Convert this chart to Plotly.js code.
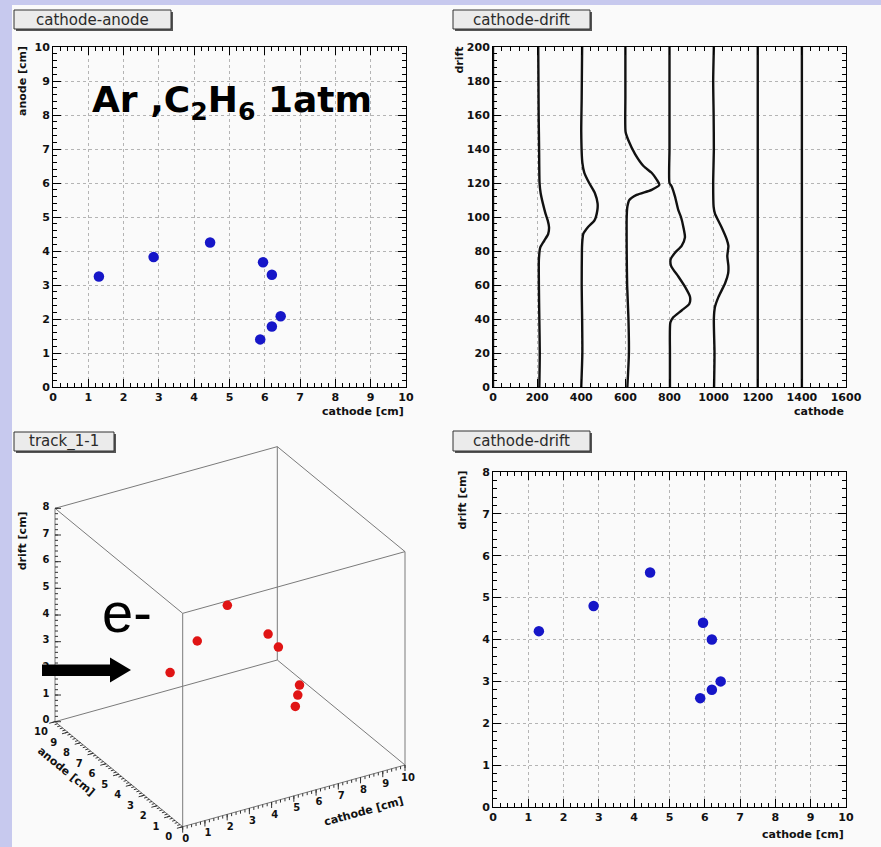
<!DOCTYPE html>
<html>
<head>
<meta charset="utf-8">
<script src="https://cdn.plot.ly/plotly-3.0.1.min.js"></script>
<style>html,body{margin:0;padding:0;background:#fafafa;}#chart{width:881px;height:847px;}</style>
</head>
<body>
<div id="chart"></div>
<script>
// ---- data: hit positions ----
const cathode = [1.3, 2.85, 4.45, 5.95, 6.2, 6.45, 6.2, 5.87];
const anode   = [3.25, 3.82, 4.25, 3.67, 3.3, 2.08, 1.78, 1.4];
const drift   = [4.2, 4.8, 5.6, 4.4, 4.0, 3.0, 2.8, 2.6];

// ---- data: cathode waveforms (value vs drift) ----
const ch0Drift = [0, 200];
const ch0Value = [0, 0];
const ch1Drift = [0, 20, 40, 60, 75, 82, 86, 90, 94, 98, 102, 108, 114, 120, 140, 160, 180, 200];
const ch1Value = [210, 212, 210, 208, 208, 214, 232, 250, 254, 248, 238, 226, 216, 211, 209, 207, 206, 205];
const ch2Drift = [0, 20, 40, 60, 80, 84, 90, 94, 98, 104, 108, 114, 120, 126, 132, 150, 170, 200];
const ch2Value = [400, 405, 404, 402, 403, 404, 409, 430, 460, 473, 474, 462, 436, 414, 405, 400, 402, 404];
const ch3Drift = [0, 20, 40, 60, 80, 100, 106, 110, 113, 116, 119, 122, 126, 130, 137, 145, 150, 170, 200];
const ch3Value = [609, 616, 614, 608, 606, 606, 609, 618, 651, 719, 754, 742, 719, 682, 644, 614, 601, 600, 600];
const ch4Drift = [0, 20, 38, 41, 45, 49, 53, 59, 65, 71, 75, 79, 83, 88, 94, 100, 104, 112, 118, 120, 140, 160, 180, 200];
const ch4Value = [802, 802, 804, 817, 855, 890, 893, 870, 840, 808, 805, 825, 855, 870, 863, 852, 840, 825, 810, 800, 800, 800, 800, 800];
const ch5Drift = [0, 20, 40, 47, 53, 61, 67, 71, 77, 83, 87, 94, 102, 106, 120, 140, 160, 180, 200];
const ch5Value = [1002, 1004, 1001, 1006, 1022, 1052, 1066, 1067, 1062, 1067, 1059, 1036, 1006, 1000, 998, 1001, 1000, 998, 1001];
const ch6Drift = [0, 200];
const ch6Value = [1200, 1200];
const ch7Drift = [0, 200];
const ch7Value = [1400, 1400];

// ---- axis ranges / ticks ----
const cmRange = [0, 10];
const driftCmRange = [0, 8];
const adcRange = [0, 1600];
const timeRange = [0, 200];
const cmTicks = [0, 1, 2, 3, 4, 5, 6, 7, 8, 9, 10];
const driftTicks = [0, 1, 2, 3, 4, 5, 6, 7, 8];

const W = 881, H = 847;
const px = x => x / W;
const py = y => 1 - y / H;

const tickFont = {family: 'DejaVu Sans', size: 11, weight: 'bold', color: '#111'};
const titleFont = {family: 'DejaVu Sans', size: 11, weight: 'bold', color: '#111'};

function ax(extra, minorStep) {
  return Object.assign({
    showline: true, linecolor: '#000', linewidth: 1, mirror: 'ticks',
    ticks: 'inside', ticklen: 8, tickcolor: '#000', tickwidth: 1,
    showgrid: true, gridcolor: '#b4b4b4', griddash: 'dot', gridwidth: 1,
    zeroline: false, tickfont: tickFont, fixedrange: true,
    minor: {ticks: 'inside', ticklen: 4, tickcolor: '#000', dtick: minorStep, showgrid: false}
  }, extra);
}

const traces = [];
// top-left: cathode-anode
traces.push({type: 'scatter', mode: 'markers', x: cathode, y: anode, xaxis: 'x', yaxis: 'y',
  marker: {color: '#1616c8', size: 10.5}, hoverinfo: 'skip'});
// top-right: waveforms
const chans = [[ch0Value, ch0Drift], [ch1Value, ch1Drift], [ch2Value, ch2Drift], [ch3Value, ch3Drift],
               [ch4Value, ch4Drift], [ch5Value, ch5Drift], [ch6Value, ch6Drift], [ch7Value, ch7Drift]];
chans.forEach(c => traces.push({type: 'scatter', mode: 'lines', x: c[0], y: c[1], xaxis: 'x2', yaxis: 'y2',
  line: {color: '#111', width: 2.4, shape: 'spline', smoothing: 0.6}, hoverinfo: 'skip'}));
// bottom-right: cathode-drift
traces.push({type: 'scatter', mode: 'markers', x: cathode, y: drift, xaxis: 'x3', yaxis: 'y3',
  marker: {color: '#1616c8', size: 10.5}, hoverinfo: 'skip'});

// ---- bottom-left: 3D view, parallel projection onto a hidden 2D axis pair (1 unit = 1 px) ----
const view = {c: [22.23, 6.17], a: [-12.77, 10.5], d: [0, 26.67]};
function proj(c, a, d) {
  return [c * view.c[0] + a * view.a[0] + d * view.d[0], c * view.c[1] + a * view.a[1] + d * view.d[1]];
}
function norm(v) { const l = Math.hypot(v[0], v[1]); return [v[0] / l, v[1] / l]; }
const segX = [], segY = [];
function seg(p, q) { segX.push(p[0], q[0], null); segY.push(p[1], q[1], null); }
const C = cmRange, A = cmRange, D = driftCmRange;
for (const a of A) for (const d of D) seg(proj(C[0], a, d), proj(C[1], a, d));
for (const c of C) for (const d of D) seg(proj(c, A[0], d), proj(c, A[1], d));
for (const c of C) for (const a of A) seg(proj(c, a, D[0]), proj(c, a, D[1]));
traces.push({type: 'scatter', mode: 'lines', x: segX, y: segY, xaxis: 'x4', yaxis: 'y4',
  line: {color: '#7a7a7a', width: 1}, hoverinfo: 'skip'});

// ticks of the 3D axes
const tkX = [], tkY = [];
function ticks(posFn, lo, hi, step, dir, len) {
  const n = Math.round((hi - lo) / step);
  for (let i = 0; i <= n; i++) {
    const p = posFn(lo + i * step);
    tkX.push(p[0], p[0] + dir[0] * len, null); tkY.push(p[1], p[1] + dir[1] * len, null);
  }
}
const dirC = [0, -1];
const dirA = norm([-view.c[0], -view.c[1]]);
const dirD = [1, 0];
ticks(v => proj(v, 0, 0), 0, 10, 1, dirC, 6); ticks(v => proj(v, 0, 0), 0, 10, 0.2, dirC, 3);
ticks(v => proj(0, v, 0), 0, 10, 1, dirA, 6); ticks(v => proj(0, v, 0), 0, 10, 0.2, dirA, 3);
ticks(v => proj(0, 10, v), 0, 8, 1, dirD, 6); ticks(v => proj(0, 10, v), 0, 8, 0.2, dirD, 3);
traces.push({type: 'scatter', mode: 'lines', x: tkX, y: tkY, xaxis: 'x4', yaxis: 'y4',
  line: {color: '#333', width: 1}, hoverinfo: 'skip'});

// tick labels of the 3D axes
const lab3Font = {family: 'DejaVu Sans', size: 10, weight: 'bold', color: '#111'};
function labels(vals, posFn, off) {
  const p = vals.map(posFn);
  traces.push({type: 'scatter', mode: 'text', x: p.map(q => q[0] + off[0]), y: p.map(q => q[1] + off[1]),
    text: vals.map(String), textfont: lab3Font, textposition: 'middle center', xaxis: 'x4', yaxis: 'y4',
    hoverinfo: 'skip', cliponaxis: false});
}
labels(cmTicks, v => proj(v, 0, 0), [3, -13]);
labels(cmTicks, v => proj(0, v, 0), [-14, -11]);
labels(driftTicks, v => proj(0, 10, v), [-9, 1]);

// hits
const hits = cathode.map((c, i) => proj(c, anode[i], drift[i]));
traces.push({type: 'scatter', mode: 'markers', x: hits.map(h => h[0]), y: hits.map(h => h[1]),
  xaxis: 'x4', yaxis: 'y4', marker: {color: '#e01414', size: 9.5}, hoverinfo: 'skip'});

// title boxes
function pave(x0, y0, x1, y1) {
  return [
    {type: 'rect', xref: 'paper', yref: 'paper', x0: px(x0 + 2), x1: px(x1 + 2), y0: py(y1 + 2), y1: py(y0 + 2),
     fillcolor: '#555', line: {width: 0}},
    {type: 'rect', xref: 'paper', yref: 'paper', x0: px(x0), x1: px(x1), y0: py(y1), y1: py(y0),
     fillcolor: '#ebebeb', line: {color: '#333', width: 1}}
  ];
}
const arrowPts = [[42, 664.5], [110, 664.5], [110, 657.5], [131, 670], [110, 682.5], [110, 676], [42, 676]];
const arrowPath = 'M ' + arrowPts.map(p => px(p[0]) + ' ' + py(p[1])).join(' L ') + ' Z';

const shapes = [
  {type: 'rect', xref: 'paper', yref: 'paper', x0: 0, x1: px(12), y0: 0, y1: 1, fillcolor: '#c7c9ee', line: {width: 0}, layer: 'below'},
  {type: 'rect', xref: 'paper', yref: 'paper', x0: 0, x1: 1, y0: py(5), y1: 1, fillcolor: '#c7c9ee', line: {width: 0}, layer: 'below'},
  ...pave(14, 10, 171, 29), ...pave(453, 10, 590, 29), ...pave(14, 432, 114, 451), ...pave(453, 431, 590, 451),
  {type: 'path', xref: 'paper', yref: 'paper', path: arrowPath, fillcolor: '#000', line: {width: 0}}
];

function txt(text, x, y, xa, ya, font, angle) {
  return {text: text, xref: 'paper', yref: 'paper', x: px(x), y: py(y), xanchor: xa, yanchor: ya,
          showarrow: false, font: font, textangle: angle || 0};
}
function txt4(text, p, font, angle) {
  return {text: text, xref: 'x4', yref: 'y4', x: p[0], y: p[1], xanchor: 'center', yanchor: 'middle',
          showarrow: false, font: font, textangle: angle};
}
const deg = v => -Math.atan2(v[1], v[0]) * 180 / Math.PI;
const paveFont = {family: 'DejaVu Sans', size: 15, color: '#2a2a2a'};
const c4 = proj(8.1, 0, 0), a4 = proj(0, 6, 0), d4 = proj(0, 10, 6.2);
const annotations = [
  txt('cathode-anode', 92, 19.5, 'center', 'middle', paveFont),
  txt('cathode-drift', 521, 19.5, 'center', 'middle', paveFont),
  txt('track_1-1', 64, 441.5, 'center', 'middle', paveFont),
  txt('cathode-drift', 521, 441, 'center', 'middle', paveFont),
  txt('cathode [cm]', 406, 411, 'right', 'middle', titleFont),
  txt('anode [cm]', 22, 44, 'center', 'top', titleFont, -90),
  txt('cathode', 846, 411, 'right', 'middle', titleFont),
  txt('drift', 459, 44, 'center', 'top', titleFont, -90),
  txt('cathode [cm]', 846, 834, 'right', 'middle', titleFont),
  txt('drift [cm]', 462, 469, 'center', 'top', titleFont, -90),
  txt4('cathode [cm]', [c4[0] + 1, c4[1] - 35], titleFont, deg(view.c)),
  txt4('anode [cm]', [a4[0] - 40, a4[1] - 8], titleFont, deg([-view.a[0], -view.a[1]])),
  txt4('drift [cm]', [d4[0] - 33, d4[1] + 15], titleFont, -90),
  txt('Ar ,C<sub>2</sub>H<sub>6</sub> 1atm', 90, 103, 'left', 'middle', {family: 'DejaVu Sans', size: 36, weight: 'bold', color: '#000'}),
  txt('e-', 100, 612, 'left', 'middle', {family: 'Liberation Sans', size: 56, color: '#000'})
];

const hidden = {visible: false, fixedrange: true, showgrid: false, zeroline: false};
const layout = {
  width: W, height: H, margin: {l: 0, r: 0, t: 0, b: 0},
  paper_bgcolor: '#fafafa', plot_bgcolor: '#fafafa', showlegend: false,
  xaxis: ax({domain: [px(53), px(406)], range: cmRange, dtick: 1, anchor: 'y'}, 0.2),
  yaxis: ax({domain: [py(387), py(47)], range: cmRange, dtick: 1, anchor: 'x'}, 0.2),
  xaxis2: ax({domain: [px(493), px(846)], range: adcRange, dtick: 200, anchor: 'y2'}, 40),
  yaxis2: ax({domain: [py(387), py(47)], range: timeRange, dtick: 20, anchor: 'x2'}, 4),
  xaxis3: ax({domain: [px(493), px(846)], range: cmRange, dtick: 1, anchor: 'y3'}, 0.2),
  yaxis3: ax({domain: [py(807), py(472)], range: driftCmRange, dtick: 1, anchor: 'x3'}, 0.2),
  xaxis4: Object.assign({domain: [px(14), px(436)], range: [14 - 182.7, 436 - 182.7], anchor: 'y4'}, hidden),
  yaxis4: Object.assign({domain: [py(845), py(428)], range: [826.7 - 845, 826.7 - 428], anchor: 'x4'}, hidden),
  shapes: shapes, annotations: annotations
};

Plotly.newPlot('chart', traces, layout, {displayModeBar: false, staticPlot: true});
</script>
</body>
</html>
